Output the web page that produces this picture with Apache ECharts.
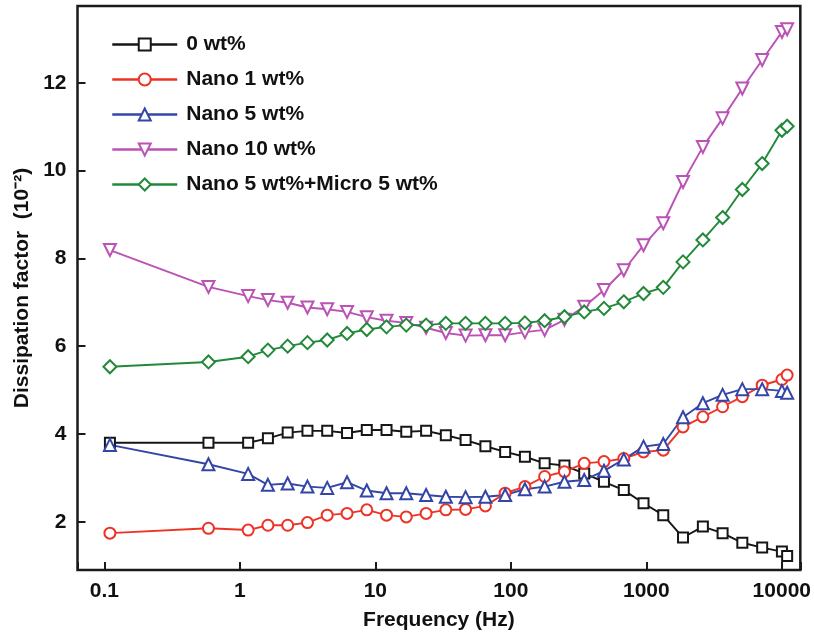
<!DOCTYPE html>
<html>
<head>
<meta charset="utf-8">
<script src="https://cdn.jsdelivr.net/npm/echarts@6/dist/echarts.min.js"></script>
<style>
html,body{margin:0;padding:0;background:#fff;}
#chart{width:814px;height:636px;}
</style>
</head>
<body>
<div id="chart"></div>
<script>
const freqs = [0.110, 0.587, 1.152, 1.612, 2.255, 3.157, 4.416, 6.185, 8.651, 12.10, 16.92, 23.71, 33.15, 46.38, 64.95, 90.85, 127.1, 177.7, 248.9, 348.1, 486.9, 682.1, 953.9, 1334, 1866, 2615, 3656, 5113, 7164, 10020, 10950];

const seriesNames = ['0 wt%', 'Nano 1 wt%', 'Nano 5 wt%', 'Nano 10 wt%', 'Nano 5 wt%+Micro 5 wt%'];

const wt0 = [3.80, 3.80, 3.80, 3.90, 4.03, 4.07, 4.07, 4.02, 4.09, 4.09, 4.05, 4.07, 3.97, 3.86, 3.72, 3.59, 3.48, 3.33, 3.28, 3.10, 2.91, 2.72, 2.42, 2.15, 1.64, 1.89, 1.74, 1.52, 1.41, 1.32, 1.22];
const nano1 = [1.74, 1.85, 1.81, 1.92, 1.92, 1.98, 2.15, 2.19, 2.27, 2.15, 2.11, 2.19, 2.27, 2.28, 2.36, 2.65, 2.80, 3.03, 3.14, 3.33, 3.37, 3.44, 3.59, 3.63, 4.16, 4.39, 4.62, 4.85, 5.11, 5.24, 5.34];
const nano5 = [3.75, 3.31, 3.09, 2.84, 2.87, 2.80, 2.77, 2.90, 2.71, 2.65, 2.65, 2.61, 2.57, 2.56, 2.57, 2.61, 2.74, 2.80, 2.91, 2.95, 3.16, 3.42, 3.71, 3.77, 4.38, 4.70, 4.89, 5.02, 5.02, 4.98, 4.94];
const nano10 = [8.19, 7.35, 7.14, 7.05, 6.99, 6.88, 6.84, 6.78, 6.66, 6.58, 6.53, 6.42, 6.30, 6.24, 6.25, 6.25, 6.32, 6.37, 6.60, 6.90, 7.28, 7.73, 8.30, 8.80, 9.74, 10.54, 11.19, 11.87, 12.52, 13.16, 13.22];
const nanoMicro = [5.53, 5.64, 5.76, 5.91, 6.00, 6.08, 6.14, 6.29, 6.38, 6.44, 6.48, 6.48, 6.52, 6.52, 6.52, 6.52, 6.53, 6.58, 6.67, 6.78, 6.86, 7.01, 7.20, 7.34, 7.92, 8.42, 8.93, 9.57, 10.16, 10.92, 11.01];

const xTickLabels = ['0.1', '1', '10', '100', '1000', '10000'];
const yTickLabels = ['2', '4', '6', '8', '10', '12'];

const FONT = '"Liberation Sans", Arial, sans-serif';
const colors = ['#161616', '#ee3326', '#3445a8', '#bb52b6', '#23893a'];
const symbols = ['emptyRect', 'emptyCircle', 'emptyTriangle', 'emptyTriangle', 'emptyDiamond'];
const sizes = [10, 11, 12, 12, 13];
const rotations = [0, 0, 0, 180, 0];
const allData = [wt0, nano1, nano5, nano10, nanoMicro];

const chart = echarts.init(document.getElementById('chart'), null, {renderer: 'canvas'});

const series = allData.map((vals, i) => ({
  name: seriesNames[i],
  type: 'line',
  data: freqs.map((f, k) => [f, vals[k]]),
  symbol: symbols[i],
  symbolSize: sizes[i],
  symbolRotate: rotations[i],
  showAllSymbol: true,
  lineStyle: {color: colors[i], width: 1.9},
  itemStyle: {color: colors[i], borderWidth: 2},
  emphasis: {disabled: true},
  animation: false
}));

chart.setOption({
  backgroundColor: '#fff',
  animation: false,
  grid: {left: 77.5, right: 7, top: 6, bottom: 66, show: true, borderColor: '#1a1a1a', borderWidth: 2.5, backgroundColor: 'transparent'},
  legend: {
    orient: 'vertical',
    left: 106,
    top: 29,
    itemWidth: 65,
    itemHeight: 15,
    itemGap: 14,
    data: seriesNames,
    lineStyle: {width: 2.5},
    textStyle: {fontFamily: FONT, fontWeight: 'bold', fontSize: 21, color: '#111', padding: [0, 0, 0, 4]}
  },
  xAxis: {
    type: 'log',
    logBase: 10,
    min: 0.0634,
    max: 13700,
    name: 'Frequency (Hz)',
    nameLocation: 'middle',
    nameGap: 40,
    nameTextStyle: {fontFamily: FONT, fontWeight: 'bold', fontSize: 21, color: '#111'},
    axisLine: {show: false},
    axisTick: {show: true, inside: true, length: 8, lineStyle: {color: '#1a1a1a', width: 2}},
    minorTick: {show: false},
    splitLine: {show: false},
    axisLabel: {
      fontFamily: FONT, fontWeight: 'bold', fontSize: 21, color: '#111', margin: 11,
      formatter: function (v) {
        const l = Math.log10(v);
        const r = Math.round(l);
        if (Math.abs(l - r) > 1e-6 || r < -1 || r > 4) return '';
        return xTickLabels[r + 1];
      }
    }
  },
  yAxis: {
    type: 'value',
    min: 0.9,
    max: 13.75,
    splitNumber: 6,
    name: 'Dissipation factor  (10⁻²)',
    nameLocation: 'middle',
    nameGap: 45,
    nameTextStyle: {fontFamily: FONT, fontWeight: 'bold', fontSize: 21, color: '#111'},
    axisLine: {show: false},
    axisTick: {show: true, inside: true, length: 8, lineStyle: {color: '#1a1a1a', width: 2}},
    splitLine: {show: false},
    axisLabel: {
      fontFamily: FONT, fontWeight: 'bold', fontSize: 21, color: '#111', margin: 11,
      formatter: function (v) {
        const r = Math.round(v);
        if (Math.abs(v - r) > 1e-6 || r % 2 !== 0) return '';
        const idx = r / 2 - 1;
        return (idx >= 0 && idx < yTickLabels.length) ? yTickLabels[idx] : '';
      }
    }
  },
  series: series
});
</script>
</body>
</html>
